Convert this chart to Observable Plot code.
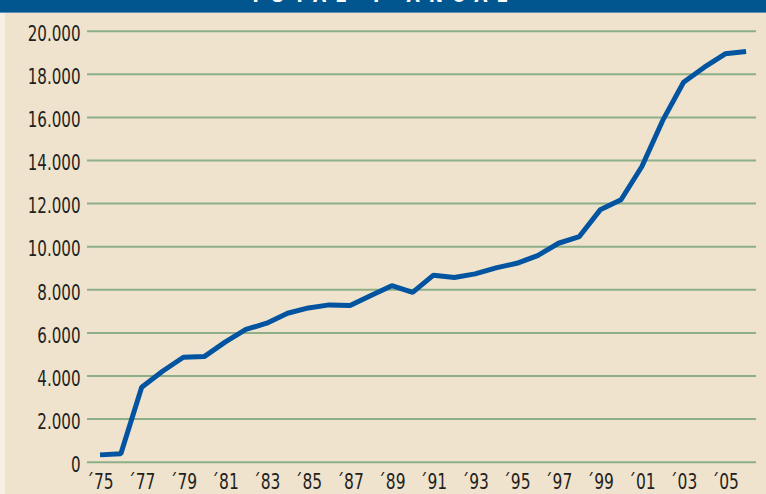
<!DOCTYPE html>
<html>
<head>
<meta charset="utf-8">
<script src="https://cdn.jsdelivr.net/npm/d3@7"></script>
<script src="https://cdn.jsdelivr.net/npm/@observablehq/plot@0.6"></script>
<style>
  html, body { margin: 0; padding: 0; background: #EFE3CE; }
  body { width: 766px; height: 494px; overflow: hidden; position: relative; }
  #banner { position: absolute; left: 0; top: 0; width: 766px; height: 12px; background: #02568F; border-bottom: 1px solid #5A8DB8; overflow: hidden; }
  #banner span { position: absolute; left: 0; width: 766px; text-align: center; top: -14px; color: #fff; font: bold 19px "DejaVu Sans Condensed", sans-serif; letter-spacing: 9px; line-height: 19px; }
  #edge { position: absolute; left: 0; top: 13px; width: 5px; height: 481px; background: #F6EFE4; }
  #chart { position: absolute; left: 0; top: 13px; }
  #chart svg { background: transparent; }
</style>
</head>
<body>
<div id="banner"><span>TOTAL Y ANUAL</span></div>
<div id="edge"></div>
<div id="chart"></div>
<script>
const years = [1975, 1976, 1977, 1978, 1979, 1980, 1981, 1982, 1983, 1984, 1985, 1986, 1987, 1988, 1989, 1990,
               1991, 1992, 1993, 1994, 1995, 1996, 1997, 1998, 1999, 2000, 2001, 2002, 2003, 2004, 2005, 2006];
const values = [340, 390, 3480, 4220, 4870, 4900, 5570, 6160, 6450, 6910, 7160, 7300, 7270, 7740, 8190, 7880,
                8680, 8570, 8740, 9020, 9230, 9590, 10160, 10470, 11710, 12180, 13720, 15860, 17630, 18330, 18950, 19060];
const xTicks = [1975, 1977, 1979, 1981, 1983, 1985, 1987, 1989, 1991, 1993, 1995, 1997, 1999, 2001, 2003, 2005];
const yTicks = [0, 2000, 4000, 6000, 8000, 10000, 12000, 14000, 16000, 18000, 20000];

const data = years.map((y, i) => ({year: y, value: values[i]}));
const fontFam = '"DejaVu Sans Condensed", "Liberation Sans Narrow", sans-serif';

const chart = Plot.plot({
  width: 766,
  height: 481,
  marginLeft: 87,
  marginRight: 10,
  marginTop: 17.7,
  marginBottom: 32.3,
  style: {background: "transparent", fontFamily: fontFam, fontSize: "21px", color: "#231F20"},
  x: {domain: [1974.4, 2006.5], label: null},
  y: {domain: [0, 20000], label: null},
  marks: [
    Plot.gridY(yTicks, {stroke: "#8DAF87", strokeOpacity: 1, strokeWidth: 2}),
    Plot.axisY(yTicks, {tickSize: 0, tickPadding: 7, dy: 3, fill: "#231F20", fontSize: 21, className: "yax",
      tickFormat: d => d === 0 ? "0" : d3.format(",")(d).replace(/,/g, "."), label: null}),
    Plot.axisX(xTicks, {tickSize: 0, tickPadding: 12, fill: "#231F20", fontSize: 21, className: "xax",
      tickFormat: d => "\u00B4" + String(d).slice(2), label: null}),
    Plot.line(data, {x: "year", y: "value", stroke: "#0254A0", strokeWidth: 5, strokeLinejoin: "miter", strokeLinecap: "butt"})
  ]
});
document.getElementById("chart").appendChild(chart);

// condense axis labels horizontally (narrow font look)
function condense(selector, s, anchor) {
  chart.querySelectorAll(selector + " text").forEach(t => {
    const b = t.getBBox();
    const ax = anchor === "end" ? b.x + b.width : b.x + b.width / 2;
    const tr = t.getAttribute("transform") || "";
    t.setAttribute("transform", `${tr} translate(${ax},0) scale(${s},1) translate(${-ax},0)`);
  });
}
condense(".yax", 0.8, "end");
condense(".xax", 0.82, "middle");
</script>
</body>
</html>
